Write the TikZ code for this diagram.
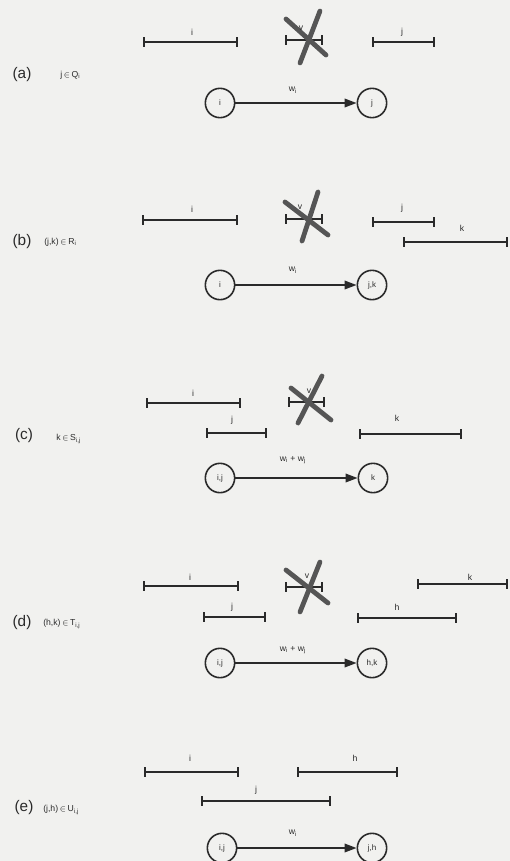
\documentclass[tikz,border=0pt]{standalone}
\usepackage{fontspec}
\setmainfont{Liberation Sans}
\usetikzlibrary{arrows.meta}
\definecolor{paper}{HTML}{F1F1EF}
\definecolor{ink}{HTML}{2A2A2A}
\definecolor{crossink}{HTML}{555555}
\begin{document}
\begin{tikzpicture}[x=0.75pt,y=-0.75pt,
  ival/.style={draw=ink,line width=1.4pt,{Bar[width=7pt,line width=1.4pt]}-{Bar[width=7pt,line width=1.4pt]}},
  crossline/.style={draw=crossink,line width=3.6pt,line cap=round},
  vnode/.style={circle,draw=ink,line width=1.2pt,minimum size=22pt,inner sep=0pt,font=\fontsize{6}{6}\selectfont,text=ink},
  arr/.style={draw=ink,line width=1.1pt,-{Triangle[length=9pt,width=6.5pt]}},
  lab/.style={font=\fontsize{6.5}{7}\selectfont,text=ink,inner sep=0pt},
  casel/.style={font=\fontsize{11.5}{12}\selectfont,text=ink,inner sep=0pt},
  cond/.style={font=\fontsize{6.5}{7}\selectfont,text=ink,inner sep=0pt,anchor=west}]
\fill[paper] (0,0) rectangle (510,861);
\useasboundingbox (0,0) rectangle (510,861);

% ---------- (a)
\draw[ival] (143,42) -- (238,42); \node[lab] (ai) at (192,32) {i};
\draw[ival] (285,40) -- (323,40);
\draw[crossline] (286,19) -- (326,55); \draw[crossline] (320,11) -- (300,63);
\node[lab] (av) at (301,28) {v};
\draw[ival] (372,42) -- (435,42); \node[lab] (aj) at (402,32) {j};
\node[casel] (acase) at (22,75) {(a)};
\node[cond] (acond) at (60,75) {j\,$\in$\,Q\textsubscript{i}};
\node[vnode] (a1) at (220,103) {i};
\node[vnode] (a2) at (372,103) {j};
\draw[arr] (a1) -- (a2);
\node[lab] (aw) at (293,90) {w\textsubscript{i}};

% ---------- (b)
\draw[ival] (142,220) -- (238,220); \node[lab] (bi) at (192,209) {i};
\draw[ival] (285,219) -- (323,219);
\draw[crossline] (285,202) -- (328,235); \draw[crossline] (318,192) -- (302,241);
\node[lab] (bv) at (300,207) {v};
\draw[ival] (372,222) -- (435,222); \node[lab] (bj) at (402,208) {j};
\draw[ival] (403,242) -- (508,242); \node[lab] (bk) at (462,228) {k};
\node[casel] (bcase) at (22,242) {(b)};
\node[cond] (bcond) at (44,242) {(j,k)\,$\in$\,R\textsubscript{i}};
\node[vnode] (b1) at (220,285) {i};
\node[vnode] (b2) at (372,285) {j,k};
\draw[arr] (b1) -- (b2);
\node[lab] (bw) at (293,270) {w\textsubscript{i}};

% ---------- (c)
\draw[ival] (146,403) -- (241,403); \node[lab] (ci) at (193,393) {i};
\draw[ival] (288,402) -- (325,402);
\draw[crossline] (291,388) -- (331,420); \draw[crossline] (322,376) -- (298,423);
\node[lab] (cv) at (309,391) {v};
\draw[ival] (206,433) -- (267,433); \node[lab] (cj) at (232,420) {j};
\draw[ival] (359,434) -- (462,434); \node[lab] (ck) at (397,418) {k};
\node[casel] (ccase) at (24,436) {(c)};
\node[cond] (ccond) at (56,439) {k\,$\in$\,S\textsubscript{i,j}};
\node[vnode] (c1) at (220,478) {i,j};
\node[vnode] (c2) at (373,478) {k};
\draw[arr] (c1) -- (c2);
\node[lab] (cw) at (293,460) {w\textsubscript{i} + w\textsubscript{j}};

% ---------- (d)
\draw[ival] (143,586) -- (239,586); \node[lab] (di) at (190,577) {i};
\draw[ival] (285,587) -- (323,587);
\draw[crossline] (286,570) -- (328,603); \draw[crossline] (320,562) -- (300,612);
\node[lab] (dv) at (307,576) {v};
\draw[ival] (203,617) -- (266,617); \node[lab] (dj) at (232,607) {j};
\draw[ival] (417,584) -- (508,584); \node[lab] (dk) at (470,577) {k};
\draw[ival] (357,618) -- (457,618); \node[lab] (dh) at (397,607) {h};
\node[casel] (dcase) at (22,623) {(d)};
\node[cond] (dcond) at (43,624) {(h,k)\,$\in$\,T\textsubscript{i,j}};
\node[vnode] (d1) at (220,663) {i,j};
\node[vnode] (d2) at (372,663) {h,k};
\draw[arr] (d1) -- (d2);
\node[lab] (dw) at (293,650) {w\textsubscript{i} + w\textsubscript{j}};

% ---------- (e)
\draw[ival] (144,772) -- (239,772); \node[lab] (ei) at (190,758) {i};
\draw[ival] (297,772) -- (398,772); \node[lab] (eh) at (355,758) {h};
\draw[ival] (201,801) -- (331,801); \node[lab] (ej) at (256,790) {j};
\node[casel] (ecase) at (24,808) {(e)};
\node[cond] (econd) at (43,810) {(j,h)\,$\in$\,U\textsubscript{i,j}};
\node[vnode] (e1) at (222,848) {i,j};
\node[vnode] (e2) at (372,848) {j,h};
\draw[arr] (e1) -- (e2);
\node[lab] (ew) at (293,833) {w\textsubscript{i}};
\end{tikzpicture}
\end{document}
